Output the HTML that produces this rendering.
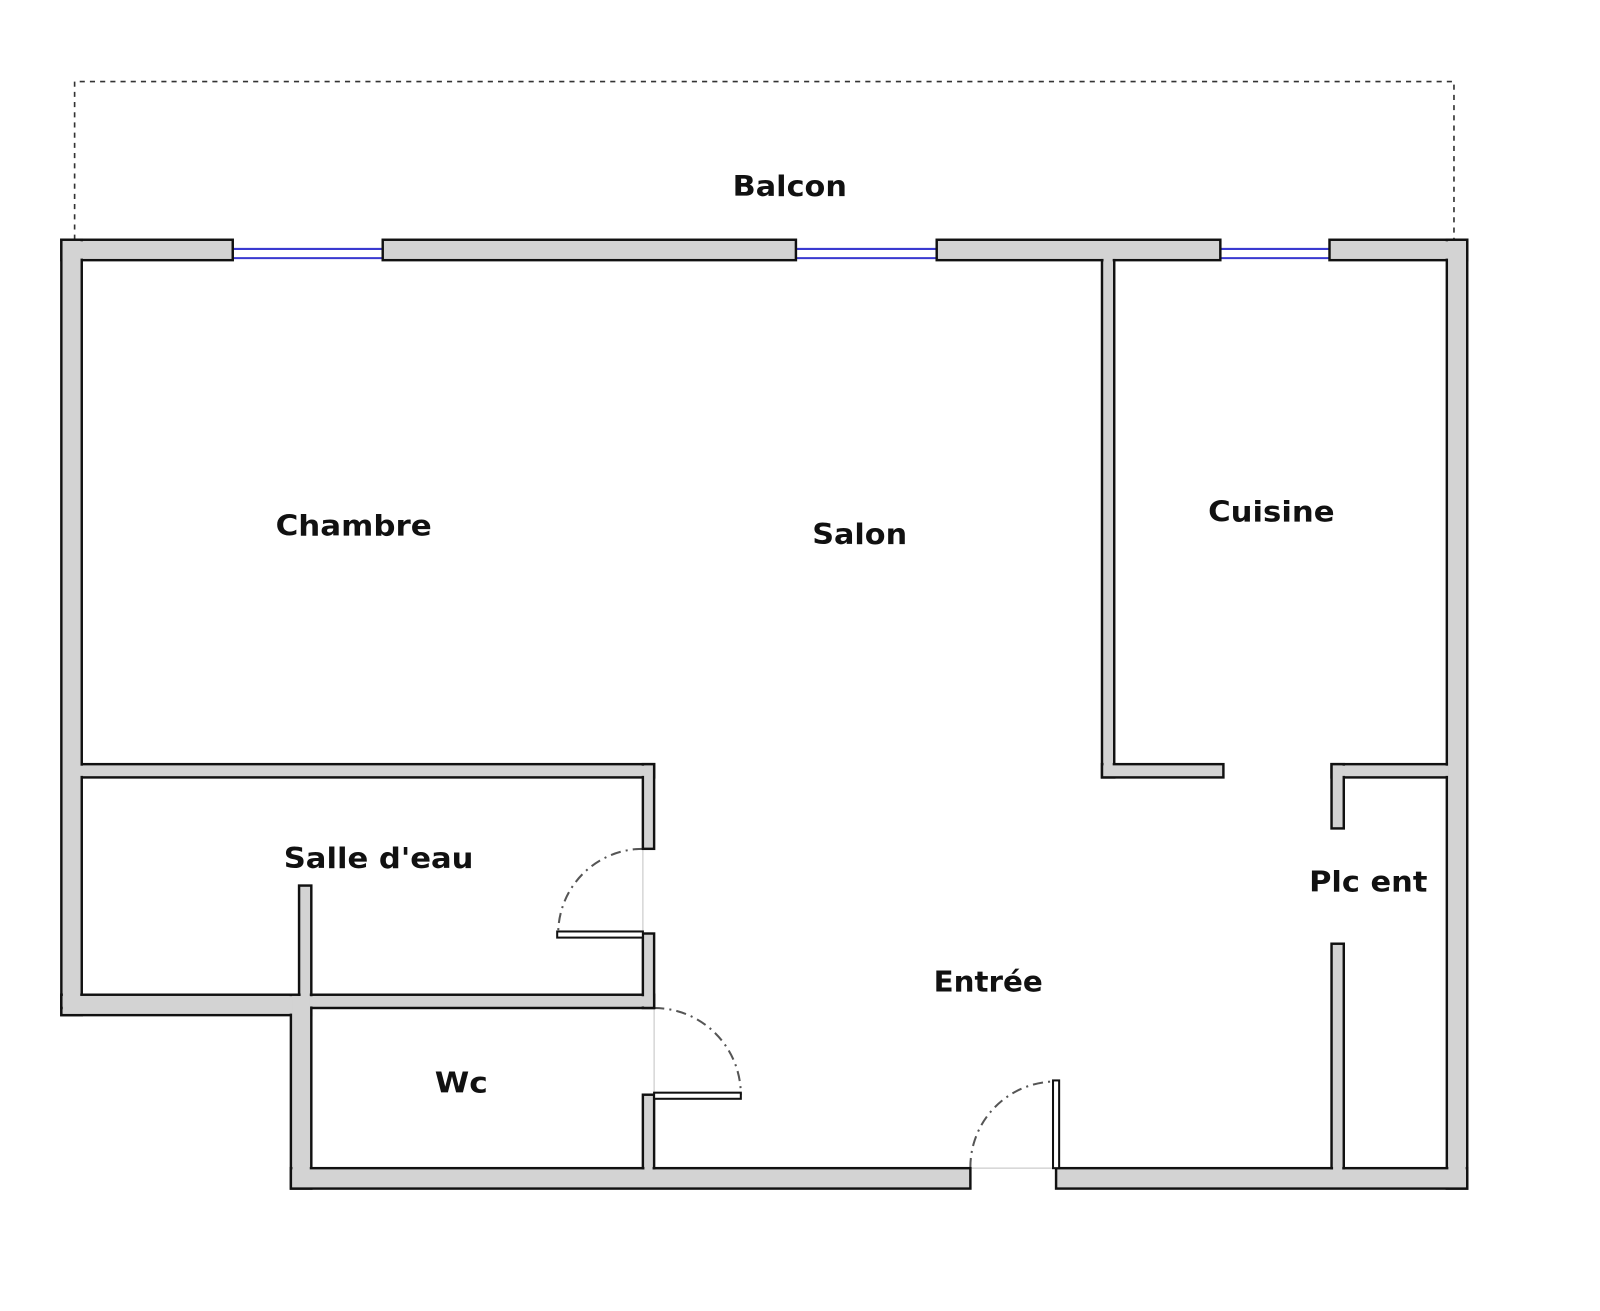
<!DOCTYPE html>
<html><head><meta charset="utf-8"><style>html,body{margin:0;padding:0;background:#fff}svg{display:block}</style></head>
<body>
<svg width="1600" height="1311" viewBox="0 0 1568 1285" xmlns="http://www.w3.org/2000/svg">
<rect x="0" y="0" width="1568" height="1285" fill="#fff"/>
<!-- balcony -->
<path d="M73 235 V80 H1425 V235" fill="none" stroke="#333" stroke-width="1.6" stroke-dasharray="5,5"/>
<!-- windows -->
<g stroke="#3a3ad0" stroke-width="2">
<line x1="228" y1="244" x2="375" y2="244"/><line x1="228" y1="253" x2="375" y2="253"/>
<line x1="780" y1="244" x2="918" y2="244"/><line x1="780" y1="253" x2="918" y2="253"/>
<line x1="1196" y1="244" x2="1303" y2="244"/><line x1="1196" y1="253" x2="1303" y2="253"/>
</g>
<!-- thin door lines -->
<g stroke="#ccc" stroke-width="1.2">
<line x1="630" y1="832" x2="630" y2="915"/>
<line x1="641" y1="988" x2="641" y2="1073"/>
<line x1="951" y1="1145" x2="1035" y2="1145"/>
</g>
<!-- arcs -->
<g fill="none" stroke="#555" stroke-width="2" stroke-dasharray="10,5,2,5">
<path d="M630 832 A83 83 0 0 0 547 915"/>
<path d="M641 988 A85 85 0 0 1 726 1073"/>
<path d="M951 1145 A84 84 0 0 1 1035 1060"/>
</g>
<!-- walls -->
<g id="w" fill="#d3d3d3" stroke="#111" stroke-width="2.4">
<rect x="60" y="235" width="168" height="20"/>
<rect x="375" y="235" width="405" height="20"/>
<rect x="918" y="235" width="278" height="20"/>
<rect x="1303" y="235" width="135" height="20"/>
<rect x="60" y="235" width="20" height="760"/>
<rect x="1418" y="235" width="20" height="930"/>
<rect x="60" y="975" width="245" height="20"/>
<rect x="60" y="975" width="581" height="13"/>
<rect x="285" y="975" width="20" height="190"/>
<rect x="285" y="1145" width="666" height="20"/>
<rect x="1035" y="1145" width="403" height="20"/>
<rect x="80" y="749" width="561" height="13"/>
<rect x="630" y="749" width="11" height="83"/>
<rect x="630" y="915" width="11" height="73"/>
<rect x="293" y="868" width="12" height="107"/>
<rect x="630" y="1073" width="11" height="72"/>
<rect x="1080" y="255" width="12" height="507"/>
<rect x="1080" y="749" width="119" height="13"/>
<rect x="1305" y="749" width="113" height="13"/>
<rect x="1305" y="749" width="12" height="63"/>
<rect x="1305" y="925" width="12" height="220"/>
</g>
<g fill="#d3d3d3" stroke="none">
<rect x="61.5" y="236.5" width="165" height="17"/>
<rect x="376.5" y="236.5" width="402" height="17"/>
<rect x="919.5" y="236.5" width="275" height="17"/>
<rect x="1304.5" y="236.5" width="132" height="17"/>
<rect x="61.5" y="236.5" width="17" height="757"/>
<rect x="1419.5" y="236.5" width="17" height="927"/>
<rect x="61.5" y="976.5" width="242" height="17"/>
<rect x="61.5" y="976.5" width="578" height="10"/>
<rect x="286.5" y="976.5" width="17" height="187"/>
<rect x="286.5" y="1146.5" width="663" height="17"/>
<rect x="1036.5" y="1146.5" width="400" height="17"/>
<rect x="78" y="750.5" width="561.5" height="10"/>
<rect x="631.5" y="750.5" width="8" height="80"/>
<rect x="631.5" y="916.5" width="8" height="70"/>
<rect x="294.5" y="869.5" width="9" height="107"/>
<rect x="631.5" y="1074.5" width="8" height="72"/>
<rect x="1081.5" y="253" width="9" height="507.5"/>
<rect x="1081.5" y="750.5" width="116" height="10"/>
<rect x="1306.5" y="750.5" width="113" height="10"/>
<rect x="1306.5" y="750.5" width="9" height="60"/>
<rect x="1306.5" y="926.5" width="9" height="220"/>
</g>
<!-- door leaves -->
<g fill="#fff" stroke="#111" stroke-width="2">
<rect x="546" y="913" width="84" height="6"/>
<rect x="641" y="1071" width="85" height="6"/>
<rect x="1032" y="1059" width="6" height="86"/>
</g>
<!-- labels -->
<g font-family="'DejaVu Sans', 'Liberation Sans', sans-serif" font-weight="bold" font-size="28" fill="#111">
<text x="718" y="192" textLength="112" lengthAdjust="spacingAndGlyphs">Balcon</text>
<text x="270" y="525" textLength="153" lengthAdjust="spacingAndGlyphs">Chambre</text>
<text x="796" y="533" textLength="93" lengthAdjust="spacingAndGlyphs">Salon</text>
<text x="1184" y="511" textLength="124" lengthAdjust="spacingAndGlyphs">Cuisine</text>
<text x="278" y="851" textLength="186" lengthAdjust="spacingAndGlyphs">Salle d'eau</text>
<text x="1283" y="874" textLength="116" lengthAdjust="spacingAndGlyphs">Plc ent</text>
<text x="915" y="972" textLength="107" lengthAdjust="spacingAndGlyphs">Entrée</text>
<text x="426" y="1071" textLength="52" lengthAdjust="spacingAndGlyphs">Wc</text>
</g>
</svg>
</body></html>
